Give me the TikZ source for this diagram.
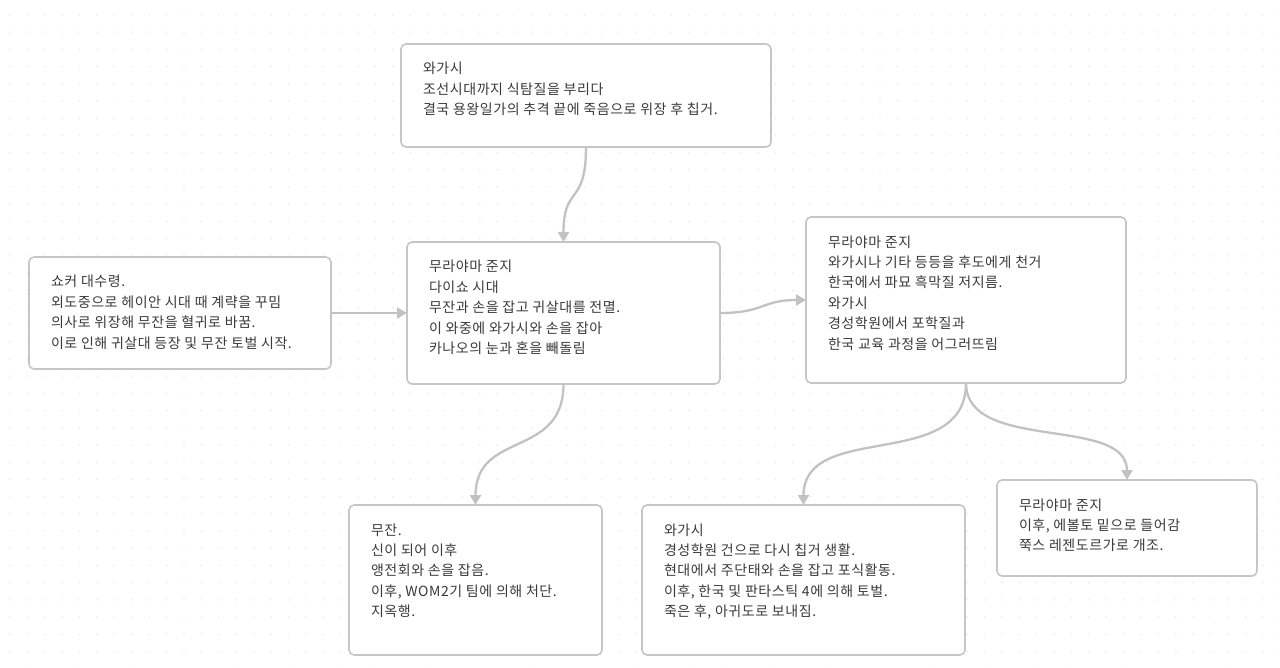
\documentclass[tikz,border=0pt]{standalone}
\usepackage{fontspec}
\setmainfont{Noto Sans CJK KR}[LetterSpace=4]
\usetikzlibrary{arrows.meta,calc}
\definecolor{txt}{HTML}{3A3A3A}
\definecolor{edge}{HTML}{C6C6C6}
\definecolor{wire}{HTML}{C2C2C2}
\definecolor{griddot}{HTML}{E8E8E8}
\newcommand\cardbody[3]{\vbox to #2{\hsize=#1\relax\parindent=0pt\parskip=0pt\leftskip=22pt\rightskip=0pt plus 1fil\relax
\fontsize{14pt}{20.4pt}\selectfont\baselineskip=20.4pt\lineskiplimit=-50pt\relax
\vskip\dimexpr 30pt-20.4pt\relax\hbox{}#3\par\vfil}}
\tikzset{
  card/.style={draw=edge, line width=1.6pt, fill=white, rounded corners=5pt,
    inner sep=0pt, outer sep=0pt, anchor=north west, text=txt},
  link/.style={draw=wire, line width=2.3pt, -{Triangle[length=10pt,width=11pt]}}
}
\begin{document}
\begin{tikzpicture}[x=1pt,y=-1pt]
\useasboundingbox (0,0) rectangle (1280,668);
\fill[white] (0,0) rectangle (1280,668);
\foreach \i in {0,...,73}{
  \foreach \j in {0,...,38}{
    \fill[griddot] ({10+17.4*\i},{15+17.2*\j}) circle (0.85pt);
  }
}
\node[card] (A) at (401,44) {\cardbody{370pt}{103pt}{와가시\\조선시대까지 식탐질을 부리다\\결국 용왕일가의 추격 끝에 죽음으로 위장 후 칩거.}};
\node[card] (B) at (29,257) {\cardbody{302pt}{112pt}{쇼커 대수령.\\외도중으로 헤이안 시대 때 계략을 꾸밈\\의사로 위장해 무잔을 혈귀로 바꿈.\\이로 인해 귀살대 등장 및 무잔 토벌 시작.}};
\node[card] (C) at (407,242) {\cardbody{313pt}{142pt}{무라야마 준지\\다이쇼 시대\\무잔과 손을 잡고 귀살대를 전멸.\\이 와중에 와가시와 손을 잡아\\카나오의 눈과 혼을 빼돌림}};
\node[card] (D) at (806,217) {\cardbody{320pt}{166pt}{무라야마 준지\\와가시나 기타 등등을 후도에게 천거\\한국에서 파묘 흑막질 저지름.\\와가시\\경성학원에서 포학질과\\한국 교육 과정을 어그러뜨림}};
\node[card] (E) at (349,505) {\cardbody{253pt}{150pt}{무잔.\\신이 되어 이후\\앵전회와 손을 잡음.\\이후, WOM2기 팀에 의해 처단.\\지옥행.}};
\node[card] (F) at (642,505) {\cardbody{323pt}{150pt}{와가시\\경성학원 건으로 다시 칩거 생활.\\현대에서 주단태와 손을 잡고 포식활동.\\이후, 한국 및 판타스틱 4에 의해 토벌.\\죽은 후, 아귀도로 보내짐.}};
\node[card] (G) at (997,480) {\cardbody{260pt}{96pt}{무라야마 준지\\이후, 에볼토 밑으로 들어감\\쭉스 레젠도르가로 개조.}};
\draw[link] (A.south) .. controls ($(A.south)+(0,60)$) and ($(C.north)+(0,-58)$) .. (C.north);
\draw[link] (B.east) -- (C.west);
\draw[link] (C.east) .. controls ($(C.east)+(45,0)$) and ($(D.west)+(-45,0)$) .. (D.west);
\draw[link] (C.south) .. controls ($(C.south)+(0,75)$) and ($(E.north)+(0,-75)$) .. (E.north);
\draw[link] (D.south) .. controls ($(D.south)+(0,90)$) and ($(F.north)+(0,-85)$) .. (F.north);
\draw[link] (D.south) .. controls ($(D.south)+(0,70)$) and ($(G.north)+(0,-65)$) .. (G.north);
\end{tikzpicture}
\end{document}
